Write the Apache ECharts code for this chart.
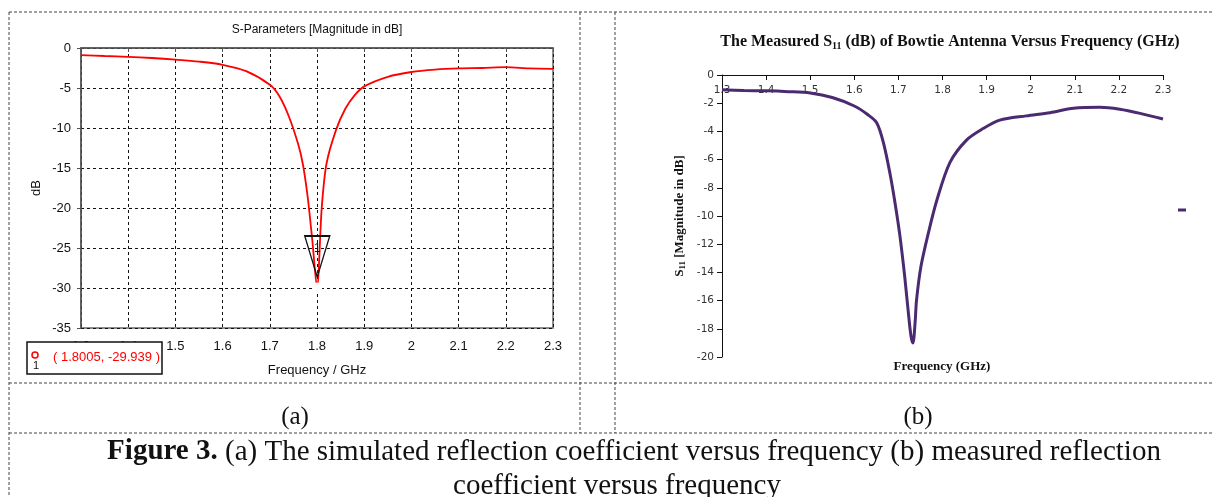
<!DOCTYPE html>
<html>
<head>
<meta charset="utf-8">
<script src="https://cdn.jsdelivr.net/npm/echarts@6/dist/echarts.min.js"></script>
<style>
  html, body { margin: 0; padding: 0; background: #fff; }
  #figure { width: 1214px; height: 497px; }
</style>
</head>
<body>
<div id="figure"></div>
<script>
// (a) simulated S11, CST export
const freqA = [1.30, 1.35, 1.40, 1.45, 1.50, 1.55, 1.60, 1.65, 1.70, 1.72, 1.74, 1.76, 1.77, 1.78, 1.79, 1.80, 1.81, 1.82, 1.84, 1.86, 1.88, 1.90, 1.95, 2.00, 2.05, 2.10, 2.15, 2.20, 2.25, 2.30]
const s11A = [-0.9, -1.0, -1.1, -1.25, -1.45, -1.7, -2.1, -2.9, -4.6, -6.0, -8.5, -12.0, -14.5, -18.5, -24.0, -29.9, -20.0, -14.5, -10.3, -7.6, -5.9, -4.8, -3.6, -3.0, -2.7, -2.55, -2.5, -2.4, -2.55, -2.6]
const markerA = [1.8005, -29.939]

// (b) measured S11
const freqB = [1.30, 1.35, 1.40, 1.45, 1.50, 1.55, 1.60, 1.63, 1.651, 1.666, 1.681, 1.692, 1.703, 1.714, 1.724, 1.729, 1.733, 1.738, 1.741, 1.751, 1.768, 1.787, 1.817, 1.855, 1.892, 1.93, 1.99, 2.044, 2.097, 2.157, 2.202, 2.248, 2.30]
const s11B = [-1.05, -1.1, -1.12, -1.18, -1.28, -1.6, -2.2, -2.8, -3.4, -4.8, -7.0, -9.0, -11.3, -14.2, -17.3, -18.6, -19.0, -17.5, -16.0, -13.6, -11.2, -8.9, -6.2, -4.6, -3.8, -3.2, -2.9, -2.67, -2.36, -2.29, -2.43, -2.72, -3.12]

const titleA = 'S-Parameters [Magnitude in dB]'
const captionA = '(a)'
const captionB = '(b)'

const chart = echarts.init(document.getElementById('figure'))

const fmtFreq = (v) => String(+v.toFixed(1))
const sans = 'Liberation Sans, Arial, sans-serif'
const serif = 'Liberation Serif, Times New Roman, serif'
const dash = [3, 2]

const tableLine = (x1, y1, x2, y2) => ({
  type: 'line',
  silent: true,
  shape: { x1, y1, x2, y2 },
  style: { stroke: '#444', lineWidth: 1, lineDash: dash },
})

const option = {
  backgroundColor: '#fff',
  animation: false,
  grid: [
    { left: 81, top: 48, width: 472, height: 280, show: true, borderColor: '#666', borderWidth: 1.5, backgroundColor: 'transparent' },
    { left: 722, top: 75, width: 441, height: 282 },
  ],
  xAxis: [
    {
      gridIndex: 0,
      type: 'value',
      min: 1.3,
      max: 2.3,
      interval: 0.1,
      name: 'Frequency / GHz',
      nameLocation: 'middle',
      nameGap: 36,
      nameTextStyle: { fontFamily: sans, fontSize: 13, color: '#111' },
      axisLine: { lineStyle: { color: '#555', width: 1.5 } },
      axisTick: { show: true, length: 4, lineStyle: { color: '#555' } },
      axisLabel: { formatter: fmtFreq, fontFamily: sans, fontSize: 13, color: '#111', margin: 12 },
      splitLine: { show: true, lineStyle: { color: '#111', type: [3, 3], width: 1 } },
    },
    {
      gridIndex: 1,
      type: 'value',
      position: 'top',
      min: 1.3,
      max: 2.3,
      interval: 0.1,
      axisLine: { lineStyle: { color: '#111', width: 1 } },
      axisTick: { show: true, inside: true, length: 5, lineStyle: { color: '#111' } },
      axisLabel: { inside: true, formatter: fmtFreq, fontFamily: 'DejaVu Sans', fontSize: 10.5, color: '#333', margin: 10 },
      splitLine: { show: false },
    },
  ],
  yAxis: [
    {
      gridIndex: 0,
      type: 'value',
      min: -35,
      max: 0,
      interval: 5,
      name: 'dB',
      nameLocation: 'middle',
      nameGap: 38,
      nameTextStyle: { fontFamily: sans, fontSize: 13, color: '#111' },
      axisLine: { show: true, lineStyle: { color: '#555', width: 1.5 } },
      axisTick: { show: true, length: 4, lineStyle: { color: '#555' } },
      axisLabel: { fontFamily: sans, fontSize: 13, color: '#111', margin: 10 },
      splitLine: { show: true, lineStyle: { color: '#111', type: [3, 3], width: 1 } },
    },
    {
      gridIndex: 1,
      type: 'value',
      min: -20,
      max: 0,
      interval: 2,
      name: 'S{sub|11} [Magnitude in dB]',
      nameLocation: 'middle',
      nameGap: 35,
      nameTextStyle: {
        fontFamily: serif,
        fontWeight: 'bold',
        fontSize: 13,
        color: '#111',
        rich: { sub: { fontFamily: serif, fontWeight: 'bold', fontSize: 9, color: '#111', verticalAlign: 'bottom', padding: [6, 0, 0, 0] } },
      },
      axisLine: { show: true, lineStyle: { color: '#111', width: 1 } },
      axisTick: { show: true, length: 5, lineStyle: { color: '#111' } },
      axisLabel: { fontFamily: 'DejaVu Sans', fontSize: 10.5, color: '#333', margin: 8 },
      splitLine: { show: false },
    },
  ],
  series: [
    {
      name: 'S1,1',
      type: 'line',
      xAxisIndex: 0,
      yAxisIndex: 0,
      data: freqA.map((f, i) => [f, s11A[i]]),
      showSymbol: false,
      smooth: 0.3,
      lineStyle: { color: '#ff0000', width: 1.8 },
      markPoint: {
        silent: true,
        data: [
          {
            coord: markerA,
            symbol: 'path://M0,0L24,0L12,40Z',
            symbolSize: [25, 41],
            symbolOffset: [0, -31],
            itemStyle: { color: 'rgba(0,0,0,0)', borderColor: '#111', borderWidth: 1.5 },
            label: { show: true, formatter: '1', offset: [0, -8], color: '#111', fontFamily: sans, fontSize: 12 },
          },
          {
            coord: markerA,
            symbol: 'emptyCircle',
            symbolSize: 8,
            itemStyle: { color: '#fff', borderColor: '#ff0000', borderWidth: 1.5 },
            label: { show: false },
          },
        ],
      },
    },
    {
      name: 'S11',
      type: 'line',
      xAxisIndex: 1,
      yAxisIndex: 1,
      data: freqB.map((f, i) => [f, s11B[i]]),
      showSymbol: false,
      smooth: 0.3,
      lineStyle: { color: '#4b2a72', width: 3 },
    },
  ],
  graphic: [
    // table frame
    tableLine(9, 12, 1214, 12),
    tableLine(9, 12, 9, 497),
    tableLine(580, 12, 580, 433),
    tableLine(615, 12, 615, 433),
    tableLine(9, 383, 1214, 383),
    tableLine(9, 433, 1214, 433),
    // chart (a) title
    {
      type: 'text', silent: true, x: 317, y: 30,
      style: { text: titleA, textAlign: 'center', textVerticalAlign: 'middle', font: '12px ' + sans, fill: '#111' },
    },
    // marker readout box
    {
      type: 'rect', silent: true, z: 10,
      shape: { x: 27, y: 342, width: 135, height: 32 },
      style: { fill: '#fff', stroke: '#111', lineWidth: 1.5 },
    },
    {
      type: 'circle', silent: true, z: 11,
      shape: { cx: 35, cy: 355, r: 3 },
      style: { fill: '#fff', stroke: '#ff0000', lineWidth: 1.5 },
    },
    {
      type: 'text', silent: true, z: 11, x: 36, y: 366,
      style: { text: '1', textAlign: 'center', textVerticalAlign: 'middle', font: '11px ' + sans, fill: '#111' },
    },
    {
      type: 'text', silent: true, z: 11, x: 53, y: 357,
      style: { text: '( ' + markerA[0] + ', ' + markerA[1] + ' )', textAlign: 'left', textVerticalAlign: 'middle', font: '13px ' + sans, fill: '#ff0000' },
    },
    // chart (b) title and x-axis name
    {
      type: 'text', silent: true, x: 950, y: 42,
      style: {
        text: '{t|The Measured S}{s|11}{t| (dB) of Bowtie Antenna Versus Frequency (GHz)}',
        textAlign: 'center',
        textVerticalAlign: 'middle',
        rich: {
          t: { fontFamily: serif, fontWeight: 'bold', fontSize: 16, fill: '#111', color: '#111' },
          s: { fontFamily: serif, fontWeight: 'bold', fontSize: 10, fill: '#111', color: '#111', padding: [8, 0, 0, 0] },
        },
      },
    },
    {
      type: 'text', silent: true, x: 942, y: 367,
      style: { text: 'Frequency (GHz)', textAlign: 'center', textVerticalAlign: 'middle', font: 'bold 13px ' + serif, fill: '#111' },
    },
    {
      type: 'line', silent: true,
      shape: { x1: 1178, y1: 210, x2: 1186, y2: 210 },
      style: { stroke: '#4b2a72', lineWidth: 3 },
    },
    // cell captions
    {
      type: 'text', silent: true, x: 295, y: 417,
      style: { text: captionA, textAlign: 'center', textVerticalAlign: 'middle', font: '25px ' + serif, fill: '#111' },
    },
    {
      type: 'text', silent: true, x: 918, y: 417,
      style: { text: captionB, textAlign: 'center', textVerticalAlign: 'middle', font: '25px ' + serif, fill: '#111' },
    },
    {
      type: 'text', silent: true, x: 634, y: 452,
      style: {
        text: '{b|Figure 3.}{n| (a) The simulated reflection coefficient versus frequency (b) measured reflection}',
        textAlign: 'center',
        textVerticalAlign: 'middle',
        rich: {
          b: { fontFamily: serif, fontWeight: 'bold', fontSize: 29, fill: '#111', color: '#111' },
          n: { fontFamily: serif, fontSize: 29, fill: '#111', color: '#111' },
        },
      },
    },
    {
      type: 'text', silent: true, x: 617, y: 486,
      style: { text: 'coefficient versus frequency', textAlign: 'center', textVerticalAlign: 'middle', font: '29px ' + serif, fill: '#111' },
    },
  ],
}

option && chart.setOption(option)
</script>
</body>
</html>
